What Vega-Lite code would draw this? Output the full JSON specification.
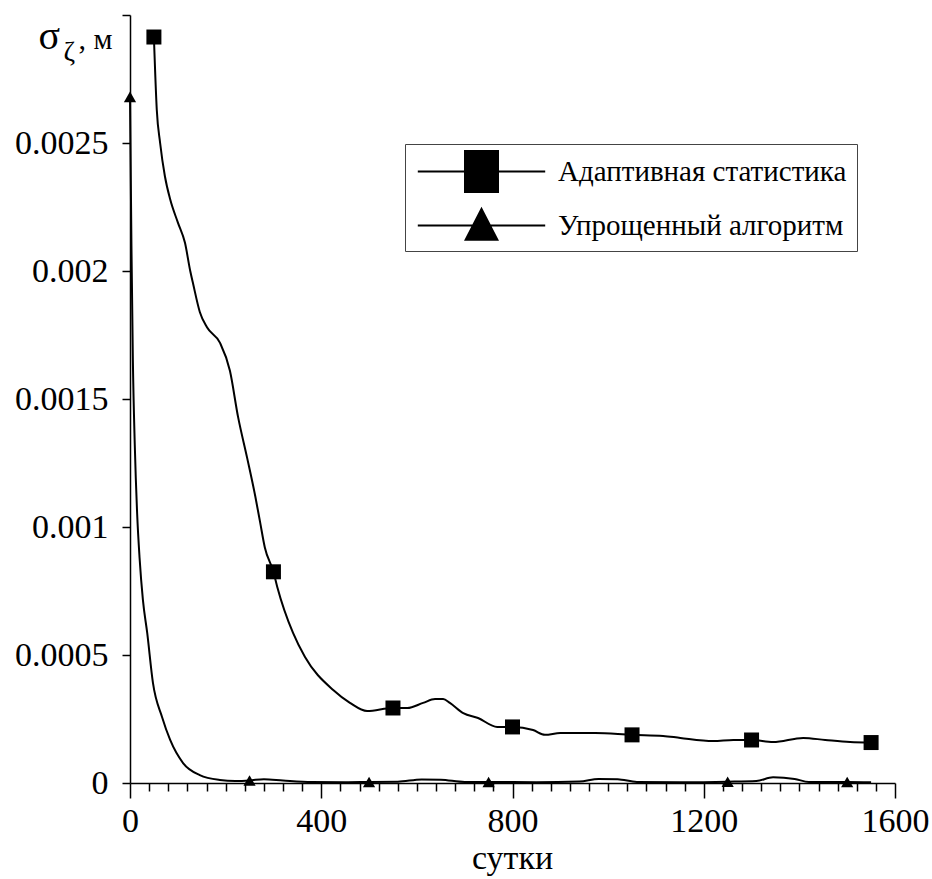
{
  "$schema": "https://vega.github.io/schema/vega-lite/v6.json",
  "width": 765,
  "height": 768,
  "autosize": "none",
  "padding": {"left": 130, "top": 15, "right": 37, "bottom": 96},
  "background": "white",
  "config": {
    "view": {"stroke": null},
    "font": "Liberation Serif, Times New Roman, serif",
    "axis": {
      "grid": false,
      "domainColor": "black",
      "tickColor": "black",
      "labelColor": "black",
      "titleColor": "black",
      "labelFont": "Liberation Serif, Times New Roman, serif",
      "titleFont": "Liberation Serif, Times New Roman, serif",
      "labelFontWeight": "normal",
      "titleFontWeight": "normal",
      "domainWidth": 1.5,
      "tickWidth": 1.5
    },
    "legend": {
      "labelFont": "Liberation Serif, Times New Roman, serif"
    }
  },
  "datasets": {
    "curves": [
      {"series": "Адаптивная статистика", "x": 50, "y": 0.002914, "m": 1},
      {"series": "Адаптивная статистика", "x": 56, "y": 0.00263, "m": 0},
      {"series": "Адаптивная статистика", "x": 63, "y": 0.0025, "m": 0},
      {"series": "Адаптивная статистика", "x": 73, "y": 0.00237, "m": 0},
      {"series": "Адаптивная статистика", "x": 84, "y": 0.00228, "m": 0},
      {"series": "Адаптивная статистика", "x": 100, "y": 0.00219, "m": 0},
      {"series": "Адаптивная статистика", "x": 115, "y": 0.00211, "m": 0},
      {"series": "Адаптивная статистика", "x": 126, "y": 0.002, "m": 0},
      {"series": "Адаптивная статистика", "x": 132, "y": 0.00195, "m": 0},
      {"series": "Адаптивная статистика", "x": 146, "y": 0.00184, "m": 0},
      {"series": "Адаптивная статистика", "x": 161, "y": 0.00178, "m": 0},
      {"series": "Адаптивная статистика", "x": 188, "y": 0.00172, "m": 0},
      {"series": "Адаптивная статистика", "x": 209, "y": 0.00161, "m": 0},
      {"series": "Адаптивная статистика", "x": 226, "y": 0.00143, "m": 0},
      {"series": "Адаптивная статистика", "x": 245, "y": 0.00127, "m": 0},
      {"series": "Адаптивная статистика", "x": 262, "y": 0.00112, "m": 0},
      {"series": "Адаптивная статистика", "x": 272, "y": 0.00102, "m": 0},
      {"series": "Адаптивная статистика", "x": 282, "y": 0.00092, "m": 0},
      {"series": "Адаптивная статистика", "x": 300, "y": 0.000825, "m": 1},
      {"series": "Адаптивная статистика", "x": 308, "y": 0.000766, "m": 0},
      {"series": "Адаптивная статистика", "x": 341, "y": 0.000586, "m": 0},
      {"series": "Адаптивная статистика", "x": 366, "y": 0.000492, "m": 0},
      {"series": "Адаптивная статистика", "x": 425, "y": 0.000363, "m": 0},
      {"series": "Адаптивная статистика", "x": 460, "y": 0.000313, "m": 0},
      {"series": "Адаптивная статистика", "x": 496, "y": 0.000281, "m": 0},
      {"series": "Адаптивная статистика", "x": 550, "y": 0.000293, "m": 1},
      {"series": "Адаптивная статистика", "x": 580, "y": 0.000293, "m": 0},
      {"series": "Адаптивная статистика", "x": 613, "y": 0.000313, "m": 0},
      {"series": "Адаптивная статистика", "x": 638, "y": 0.000328, "m": 0},
      {"series": "Адаптивная статистика", "x": 655, "y": 0.000328, "m": 0},
      {"series": "Адаптивная статистика", "x": 669, "y": 0.000313, "m": 0},
      {"series": "Адаптивная статистика", "x": 697, "y": 0.000273, "m": 0},
      {"series": "Адаптивная статистика", "x": 728, "y": 0.000254, "m": 0},
      {"series": "Адаптивная статистика", "x": 768, "y": 0.000219, "m": 0},
      {"series": "Адаптивная статистика", "x": 800, "y": 0.000219, "m": 1},
      {"series": "Адаптивная статистика", "x": 843, "y": 0.000207, "m": 0},
      {"series": "Адаптивная статистика", "x": 868, "y": 0.000188, "m": 0},
      {"series": "Адаптивная статистика", "x": 900, "y": 0.000195, "m": 0},
      {"series": "Адаптивная статистика", "x": 973, "y": 0.000195, "m": 0},
      {"series": "Адаптивная статистика", "x": 1050, "y": 0.000188, "m": 1},
      {"series": "Адаптивная статистика", "x": 1115, "y": 0.000184, "m": 0},
      {"series": "Адаптивная статистика", "x": 1151, "y": 0.000176, "m": 0},
      {"series": "Адаптивная статистика", "x": 1220, "y": 0.000164, "m": 0},
      {"series": "Адаптивная статистика", "x": 1262, "y": 0.000168, "m": 0},
      {"series": "Адаптивная статистика", "x": 1300, "y": 0.000168, "m": 1},
      {"series": "Адаптивная статистика", "x": 1345, "y": 0.00016, "m": 0},
      {"series": "Адаптивная статистика", "x": 1408, "y": 0.000176, "m": 0},
      {"series": "Адаптивная статистика", "x": 1454, "y": 0.000168, "m": 0},
      {"series": "Адаптивная статистика", "x": 1506, "y": 0.00016, "m": 0},
      {"series": "Адаптивная статистика", "x": 1550, "y": 0.000158, "m": 1},
      {"series": "Упрощенный алгоритм", "x": 0, "y": 0.00268, "m": 1},
      {"series": "Упрощенный алгоритм", "x": 3, "y": 0.0021, "m": 0},
      {"series": "Упрощенный алгоритм", "x": 6, "y": 0.00165, "m": 0},
      {"series": "Упрощенный алгоритм", "x": 10, "y": 0.00132, "m": 0},
      {"series": "Упрощенный алгоритм", "x": 15, "y": 0.00105, "m": 0},
      {"series": "Упрощенный алгоритм", "x": 20, "y": 0.00088, "m": 0},
      {"series": "Упрощенный алгоритм", "x": 27, "y": 0.000715, "m": 0},
      {"series": "Упрощенный алгоритм", "x": 36, "y": 0.000586, "m": 0},
      {"series": "Упрощенный алгоритм", "x": 48, "y": 0.000391, "m": 0},
      {"series": "Упрощенный алгоритм", "x": 67, "y": 0.000258, "m": 0},
      {"series": "Упрощенный алгоритм", "x": 84, "y": 0.000168, "m": 0},
      {"series": "Упрощенный алгоритм", "x": 111, "y": 0.000078, "m": 0},
      {"series": "Упрощенный алгоритм", "x": 146, "y": 0.000031, "m": 0},
      {"series": "Упрощенный алгоритм", "x": 188, "y": 0.000012, "m": 0},
      {"series": "Упрощенный алгоритм", "x": 220, "y": 0.000008, "m": 0},
      {"series": "Упрощенный алгоритм", "x": 250, "y": 0.00001, "m": 1},
      {"series": "Упрощенный алгоритм", "x": 280, "y": 0.000015, "m": 0},
      {"series": "Упрощенный алгоритм", "x": 320, "y": 0.00001, "m": 0},
      {"series": "Упрощенный алгоритм", "x": 380, "y": 0.000004, "m": 0},
      {"series": "Упрощенный алгоритм", "x": 450, "y": 0.000003, "m": 0},
      {"series": "Упрощенный алгоритм", "x": 500, "y": 0.000004, "m": 1},
      {"series": "Упрощенный алгоритм", "x": 560, "y": 0.000005, "m": 0},
      {"series": "Упрощенный алгоритм", "x": 610, "y": 0.000014, "m": 0},
      {"series": "Упрощенный алгоритм", "x": 650, "y": 0.000013, "m": 0},
      {"series": "Упрощенный алгоритм", "x": 700, "y": 0.000004, "m": 0},
      {"series": "Упрощенный алгоритм", "x": 750, "y": 0.000004, "m": 1},
      {"series": "Упрощенный алгоритм", "x": 850, "y": 0.000003, "m": 0},
      {"series": "Упрощенный алгоритм", "x": 940, "y": 0.000006, "m": 0},
      {"series": "Упрощенный алгоритм", "x": 980, "y": 0.000016, "m": 0},
      {"series": "Упрощенный алгоритм", "x": 1020, "y": 0.000015, "m": 0},
      {"series": "Упрощенный алгоритм", "x": 1060, "y": 0.000004, "m": 0},
      {"series": "Упрощенный алгоритм", "x": 1150, "y": 0.000003, "m": 0},
      {"series": "Упрощенный алгоритм", "x": 1250, "y": 0.000005, "m": 1},
      {"series": "Упрощенный алгоритм", "x": 1310, "y": 0.000008, "m": 0},
      {"series": "Упрощенный алгоритм", "x": 1345, "y": 0.000022, "m": 0},
      {"series": "Упрощенный алгоритм", "x": 1390, "y": 0.000016, "m": 0},
      {"series": "Упрощенный алгоритм", "x": 1420, "y": 0.000004, "m": 0},
      {"series": "Упрощенный алгоритм", "x": 1500, "y": 0.000004, "m": 1},
      {"series": "Упрощенный алгоритм", "x": 1550, "y": 0.000003, "m": 0}
    ]
  },
  "data": {"name": "curves"},
  "layer": [
    {
      "mark": {"type": "line", "interpolate": "monotone", "color": "black", "strokeWidth": 2},
      "encoding": {
        "x": {
          "field": "x", "type": "quantitative",
          "scale": {"domain": [0, 1600], "nice": false},
          "axis": {
            "orient": "bottom",
            "values": [0, 400, 800, 1200, 1600],
            "format": "d",
            "tickSize": 15,
            "labelFont": "Liberation Serif, Times New Roman, serif",
            "labelFontSize": 34,
            "labelPadding": 6,
            "labelFlush": false,
            "labelOverlap": false,
            "title": "сутки",
            "titleFont": "Liberation Serif, Times New Roman, serif",
            "titleFontSize": 34,
            "titleAlign": "center",
            "titleBaseline": "alphabetic",
            "titleX": 382,
            "titleY": 85
          }
        },
        "y": {
          "field": "y", "type": "quantitative",
          "scale": {"domain": [0, 0.003], "nice": false},
          "axis": {
            "orient": "left",
            "values": [0, 0.0005, 0.001, 0.0015, 0.002, 0.0025, 0.003],
            "tickSize": 8,
            "labelFont": "Liberation Serif, Times New Roman, serif",
            "labelFontSize": 34,
            "labelPadding": 14,
            "labelFlush": false,
            "labelOverlap": false,
            "labelExpr": "datum.value > 0.0029 ? '' : format(datum.value, '~g')",
            "title": "σ",
            "titleFont": "Liberation Serif, Times New Roman, serif",
            "titleAngle": 0,
            "titleFontSize": 40,
            "titleAlign": "left",
            "titleBaseline": "alphabetic",
            "titleX": -92,
            "titleY": 33
          }
        },
        "detail": {"field": "series", "type": "nominal"}
      }
    },
    {
      "transform": [{"filter": "datum.series == 'Адаптивная статистика' && datum.m == 1"}],
      "mark": {"type": "point", "shape": "square", "size": 225, "filled": true, "color": "black", "opacity": 1},
      "encoding": {
        "x": {
          "field": "x", "type": "quantitative",
          "axis": {
            "orient": "bottom",
            "values": [40, 80, 120, 160, 200, 240, 280, 320, 360, 440, 480, 520, 560, 600, 640, 680, 720, 760, 840, 880, 920, 960, 1000, 1040, 1080, 1120, 1160, 1240, 1280, 1320, 1360, 1400, 1440, 1480, 1520, 1560],
            "tickSize": 8,
            "labels": false,
            "domain": false,
            "title": null
          }
        },
        "y": {
          "field": "y", "type": "quantitative",
          "axis": {
            "orient": "right",
            "domain": false,
            "ticks": false,
            "labels": false,
            "title": "ζ",
            "titleFont": "Liberation Serif, Times New Roman, serif",
            "titleAngle": 0,
            "titleFontSize": 28,
            "titleAlign": "left",
            "titleBaseline": "alphabetic",
            "titleX": -832,
            "titleY": 45
          }
        }
      }
    },
    {
      "transform": [{"filter": "datum.series == 'Упрощенный алгоритм' && datum.m == 1"}],
      "mark": {"type": "point", "shape": "triangle-up", "size": 150, "filled": true, "color": "black", "opacity": 1},
      "encoding": {
        "x": {
          "field": "x", "type": "quantitative",
          "axis": {
            "orient": "top",
            "domain": false,
            "ticks": false,
            "labels": false,
            "title": ", м",
            "titleFont": "Liberation Serif, Times New Roman, serif",
            "titleFontSize": 30,
            "titleAlign": "left",
            "titleBaseline": "alphabetic",
            "titleX": -52,
            "titleY": 33
          }
        },
        "y": {"field": "y", "type": "quantitative", "axis": null}
      }
    },
    {
      "transform": [{"filter": "false"}],
      "mark": {"type": "point", "filled": true, "color": "black", "opacity": 1},
      "encoding": {
        "shape": {
          "field": "series", "type": "nominal",
          "scale": {
            "domain": ["Адаптивная статистика", "Упрощенный алгоритм"],
            "range": ["M-3.64,-0.055H3.64V0.055H-3.64ZM-1,-1.23H1V1.23H-1Z", "M-3.64,-0.055H3.64V0.055H-3.64ZM0,-1.07L1,0.87H-1Z"]
          },
          "legend": {
            "title": null,
            "orient": "none",
            "legendX": 275,
            "legendY": 129,
            "symbolSize": 1225,
            "symbolFillColor": "black",
            "symbolStrokeWidth": 0,
            "symbolOffset": 49,
            "labelOffset": 59,
            "labelFont": "Liberation Serif, Times New Roman, serif",
            "labelFontSize": 29,
            "labelColor": "black",
            "labelLimit": 0,
            "strokeColor": "#444",
            "fillColor": "white",
            "padding": 10,
            "rowPadding": 12,
            "encode": {
              "symbols": {
                "update": {
                  "fill": {"value": "black"},
                  "opacity": {"value": 1}
                }
              }
            }
          }
        }
      }
    }
  ],
  "resolve": {"axis": {"x": "independent", "y": "independent"}}
}
